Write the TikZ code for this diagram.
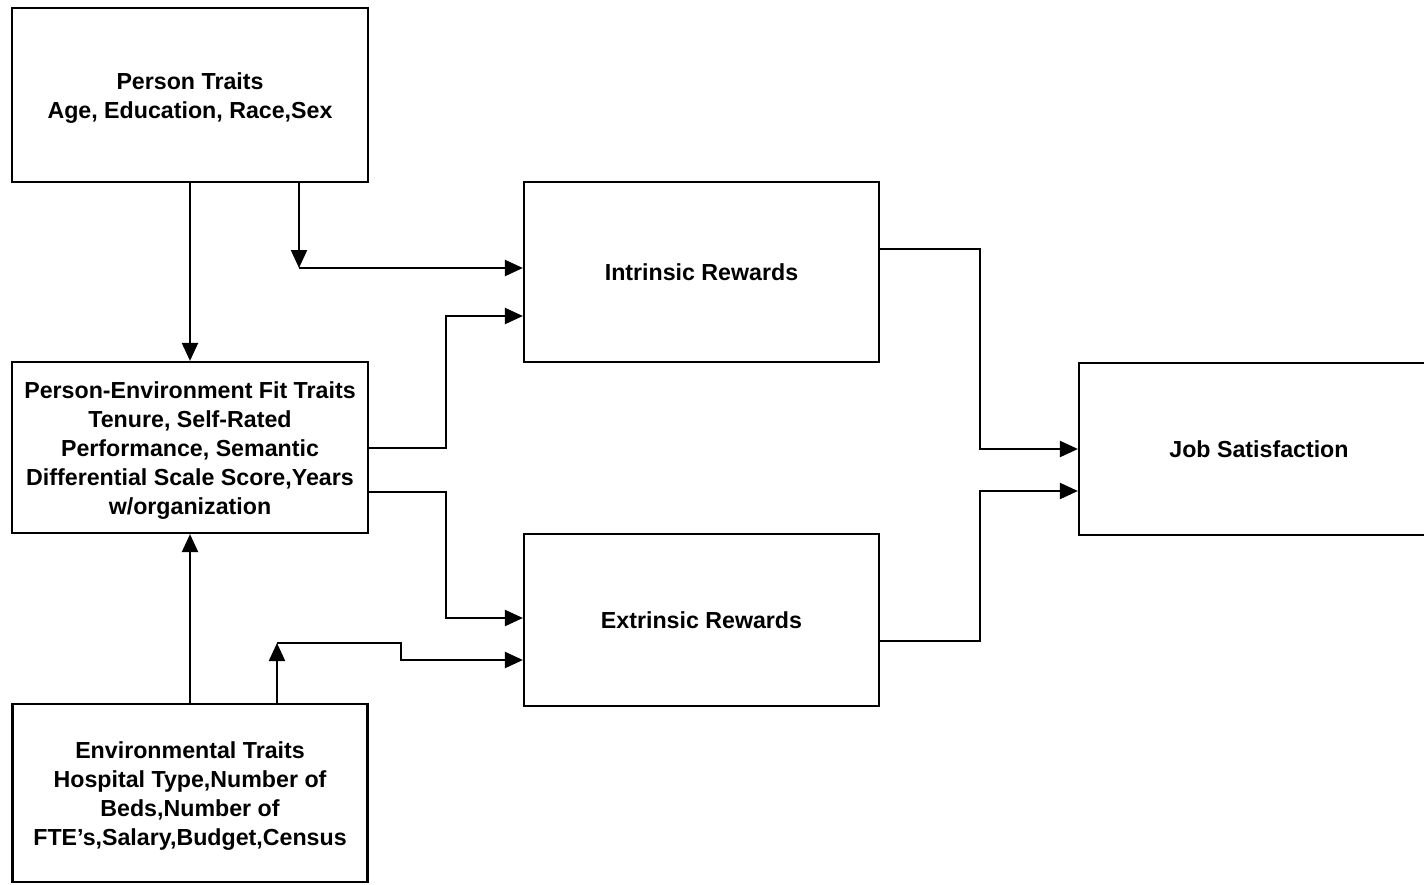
\documentclass[tikz,border=0pt]{standalone}
\usepackage{fontspec}
\setmainfont{Liberation Sans}
\usetikzlibrary{arrows.meta}
\begin{document}
\begin{tikzpicture}[x=1pt,y=-1pt,
  txtfont/.style={font=\fontsize{23.2}{29}\selectfont\bfseries},
  box/.style={draw,line width=2.2pt,inner sep=0pt,align=center,txtfont},
  mbox/.style={box,label={[yshift=-3.5pt,align=center,txtfont]center:{#1}}},
  conn/.style={line width=2.2pt},
  arr/.style={conn,-{Triangle[length=18pt,width=16pt]}}]
\clip (0,0) rectangle (1424,884);
\useasboundingbox (0,0) rectangle (1424,884);
\node[mbox={Person Traits\\Age, Education, Race,Sex},
  minimum width=356pt,minimum height=174pt] (PT) at (190,95) {};
\node[mbox={Person-Environment Fit Traits\\Tenure, Self-Rated\\Performance, Semantic\\Differential Scale Score,Years\\w/organization},
  minimum width=356pt,minimum height=171pt] (PE) at (190,447.5) {};
\node[mbox={Environmental Traits\\Hospital Type,Number of\\Beds,Number of\\FTE's,Salary,Budget,Census},
  minimum width=355pt,minimum height=178pt] (ET) at (190,793) {};
\node[box,minimum width=355pt,minimum height=180pt] (IR) at (701.5,272) {Intrinsic Rewards};
\node[box,minimum width=355pt,minimum height=172pt] (ER) at (701.5,620) {Extrinsic Rewards};
\node[box,minimum width=360pt,minimum height=172pt] (JS) at (1259,449) {Job Satisfaction};
\coordinate (c1) at (299,268);
\coordinate (c2) at (277,643);
% Person traits
\draw[arr] (PT.south) -- (PE.north);
\draw[arr] (PT.south -| c1) -- (c1);
\draw[arr] (c1) -- (c1 -| IR.west);
% P-E fit
\draw[arr] (PE.east |- 0,448) -- (446,448) |- (IR.west |- 0,316);
\draw[arr] (PE.east |- 0,492) -- (446,492) |- (ER.west |- 0,618);
% Environmental
\draw[arr] (ET.north) -- (PE.south);
\draw[arr] (ET.north -| c2) -- (c2);
\draw[arr] (c2) -- (401,643) -- (401,660) -- (ER.west |- 0,660);
% to job satisfaction
\draw[arr] (IR.east |- 0,249) -- (980,249) |- (JS.west |- 0,449);
\draw[arr] (ER.east |- 0,641) -- (980,641) |- (JS.west |- 0,491);
\end{tikzpicture}
\end{document}
